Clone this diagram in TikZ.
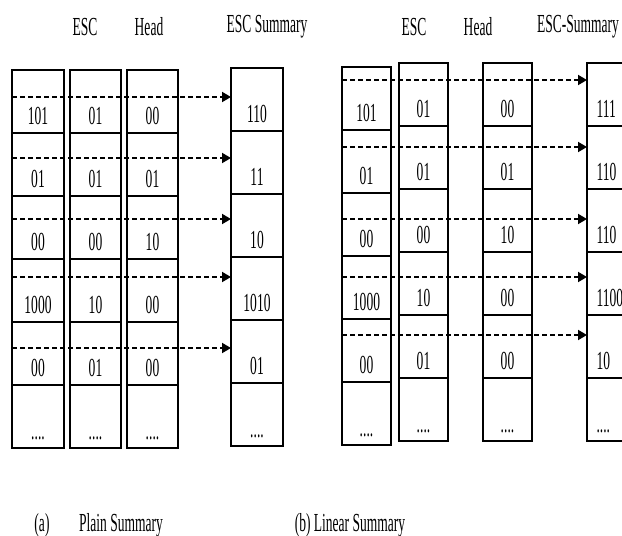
\documentclass[tikz,border=0pt]{standalone}
\usepackage{fontspec}
\setmainfont{Liberation Serif}[FakeStretch=0.52]
\usetikzlibrary{arrows.meta,positioning}
\newcommand{\moredots}{....}

\begin{document}
\begin{tikzpicture}[
    x=1pt, y=-1pt,
    font=\fontsize{26}{30}\selectfont,
    cell/.style={
        draw,
        line width=1.5pt,
        outer sep=0pt,
        minimum width=#1,
        text height=49pt,
        text depth=4pt,
        inner sep=5pt
    },
    plain/.style={},
    edge/.style={
        text width=30pt,
        align=left
    },
    head/.style={
        inner sep=1pt
    },
    flow/.style={
        -{Triangle[length=9pt,width=10pt]},
        dash pattern=on 5pt off 3pt,
        line width=1.8pt
    }
]
\useasboundingbox (0,0) rectangle (622,536);

% (a) plain summary
\foreach \name/\xx/\top/\w/\vals in {
    a1/38/70/52/{101,01,00,1000,00,\moredots},
    a2/95.5/70/51/{01,01,00,10,01,\moredots},
    a3/152.5/70/51/{00,01,10,00,00,\moredots},
    as/257/68/52/{110,11,10,1010,01,\moredots}}
{
    \foreach \v [count=\r] in \vals
        \node[cell=\w] (\name-\r) at (\xx,{\top+31.5+63*(\r-1)}) {\v};
}

% (b) linear summary
\foreach \name/\xx/\top/\sty/\vals in {
    b1/366.5/67/plain/{101,01,00,1000,00,\moredots},
    b2/423.5/63/plain/{01,01,00,10,01,\moredots},
    b3/507.5/63/plain/{00,01,10,00,00,\moredots},
    bs/611.5/63/edge/{111,110,110,1100,10,\moredots}}
{
    \foreach \v [count=\r] in \vals
        \node[cell=49pt, \sty] (\name-\r)
            at (\xx,{\top+31.5+63*(\r-1)}) {\v};
}

% column headers
\node[head] (escA) at (85,27) {ESC};
\node[head] (headA) at (149,27) {Head};
\node[head] (sumA) at (267,27) {ESC Summary};
\node[head] (escB) at (414,27) {ESC};
\node[head] (headB) at (478,27) {Head};
\node[head] (sumB) at (578,27) {ESC-Summary};

% dashed links
\foreach \r/\dy in {1/27,2/25,3/23,4/18,5/26}
    \draw[flow] ([yshift=-\dy pt]a1-\r.north west)
        -- ([yshift=-\dy pt]a1-\r.north west -| as-\r.west);
\foreach \r/\dy in {1/13,2/17,3/26,4/21,5/16}
    \draw[flow] ([yshift=-\dy pt]b1-\r.north west)
        -- ([yshift=-\dy pt]b1-\r.north west -| bs-\r.west);

% captions
\node[head] (capA) at (42,525) {(a)};
\node[head] (nameA) at (121,525) {Plain Summary};
\node[head] (capB) at (350,525) {(b) Linear Summary};

\end{tikzpicture}
\end{document}
